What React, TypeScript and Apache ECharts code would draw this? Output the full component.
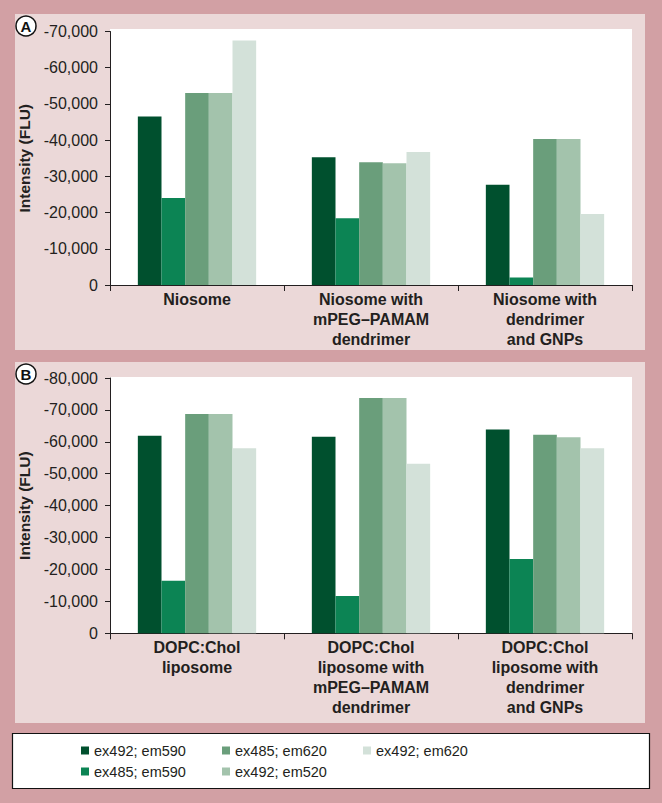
import React, { useEffect, useRef } from "react";
import * as echarts from "echarts";

const seriesNames = ["ex492; em590", "ex485; em590", "ex485; em620", "ex492; em520", "ex492; em620"];
const seriesColors = ["#00502E", "#0C8454", "#6A9E7B", "#A3C3AC", "#D3E1D9"];

const categoriesA = [
  "Niosome",
  "Niosome with\nmPEG\u2013PAMAM\ndendrimer",
  "Niosome with\ndendrimer\nand GNPs",
];
const categoriesB = [
  "DOPC:Chol\nliposome",
  "DOPC:Chol\nliposome with\nmPEG\u2013PAMAM\ndendrimer",
  "DOPC:Chol\nliposome with\ndendrimer\nand GNPs",
];

// Panel A values (per series, per category)
const a_ex492_em590 = [-46500, -35300, -27700];
const a_ex485_em590 = [-24000, -18400, -2100];
const a_ex485_em620 = [-53000, -33900, -40300];
const a_ex492_em520 = [-53000, -33600, -40300];
const a_ex492_em620 = [-67500, -36700, -19600];

// Panel B values
const b_ex492_em590 = [-61900, -61600, -63900];
const b_ex485_em590 = [-16500, -11700, -23300];
const b_ex485_em620 = [-68700, -73700, -62200];
const b_ex492_em520 = [-68700, -73700, -61400];
const b_ex492_em620 = [-58000, -53100, -58000];

const yMinA = -70000;
const yMinB = -80000;
const yInterval = 10000;
const yTitle = "Intensity (FLU)";

const FONT = "'Liberation Sans', Arial, Helvetica, sans-serif";
const INK = "#231F20";

export default function App() {
  const ref = useRef<HTMLDivElement>(null);

  useEffect(() => {
    if (!ref.current) return;
    const chart = echarts.init(ref.current, null, { renderer: "svg" });

    const dataA = [a_ex492_em590, a_ex485_em590, a_ex485_em620, a_ex492_em520, a_ex492_em620];
    const dataB = [b_ex492_em590, b_ex485_em590, b_ex485_em620, b_ex492_em520, b_ex492_em620];

    const xAxisBase = (cats: string[], gridIndex: number) => ({
      type: "category",
      gridIndex,
      data: cats,
      axisLine: { show: true, lineStyle: { color: INK, width: 1 } },
      axisTick: { show: true, length: 6, lineStyle: { color: INK } },
      axisLabel: {
        interval: 0,
        margin: 4,
        fontFamily: FONT,
        fontSize: 16,
        fontWeight: "bold",
        color: INK,
        lineHeight: 20,
        align: "center",
      },
      splitLine: { show: false },
    });

    const yAxisBase = (min: number, gridIndex: number) => ({
      type: "value",
      gridIndex,
      inverse: true,
      min,
      max: 0,
      interval: yInterval,
      name: yTitle,
      nameLocation: "middle",
      nameRotate: 90,
      nameGap: 70,
      nameTextStyle: { fontFamily: FONT, fontSize: 15.5, fontWeight: "bold", color: INK },
      axisLine: { show: true, lineStyle: { color: INK, width: 1 } },
      axisTick: { show: true, length: 5, lineStyle: { color: INK } },
      axisLabel: {
        margin: 12,
        fontFamily: FONT,
        fontSize: 16,
        color: INK,
        formatter: (v: number) => (v === 0 ? "0" : echarts.format.addCommas(v)),
      },
      splitLine: { show: false },
    });

    const series: any[] = [];
    [dataA, dataB].forEach((d, gi) => {
      d.forEach((vals, si) => {
        series.push({
          type: "bar",
          name: seriesNames[si],
          xAxisIndex: gi,
          yAxisIndex: gi,
          data: vals,
          barGap: "0%",
          barCategoryGap: "32%",
          itemStyle: { color: seriesColors[si] },
          emphasis: { disabled: true },
        });
      });
    });

    const legendCommon = {
      orient: "vertical",
      itemWidth: 8,
      itemHeight: 8,
      itemGap: 4,
      icon: "rect",
      selectedMode: false,
      textStyle: { fontFamily: FONT, fontSize: 14.5, color: INK, lineHeight: 17 },
    };

    const option: any = {
      animation: false,
      backgroundColor: "#D2A0A4",
      graphic: [
        { type: "rect", z: -10, shape: { x: 15, y: 14, width: 630, height: 336 }, style: { fill: "#EBD8D8" } },
        { type: "rect", z: -10, shape: { x: 15, y: 362, width: 630, height: 361 }, style: { fill: "#EBD8D8" } },
        { type: "rect", z: -9, shape: { x: 110, y: 29, width: 522, height: 256 }, style: { fill: "#FFFFFF" } },
        { type: "rect", z: -9, shape: { x: 110, y: 377, width: 522, height: 256 }, style: { fill: "#FFFFFF" } },
        {
          type: "rect",
          z: -10,
          shape: { x: 12.5, y: 733.5, width: 637, height: 55 },
          style: { fill: "#FFFFFF", stroke: "#111111", lineWidth: 1.2 },
        },
        { type: "circle", z: 100, shape: { cx: 26, cy: 26, r: 10 }, style: { fill: "#FFFFFF", stroke: "#111111", lineWidth: 1.5 } },
        {
          type: "text",
          z: 101,
          x: 26,
          y: 26.5,
          style: { text: "A", fontFamily: FONT, fontSize: 15, fontWeight: "bold", fill: "#111111", align: "center", verticalAlign: "middle" },
        },
        { type: "circle", z: 100, shape: { cx: 26, cy: 374, r: 10 }, style: { fill: "#FFFFFF", stroke: "#111111", lineWidth: 1.5 } },
        {
          type: "text",
          z: 101,
          x: 26,
          y: 374.5,
          style: { text: "B", fontFamily: FONT, fontSize: 15, fontWeight: "bold", fill: "#111111", align: "center", verticalAlign: "middle" },
        },
      ],
      legend: [
        { ...legendCommon, left: 76, top: 737, data: [seriesNames[0], seriesNames[1]] },
        { ...legendCommon, left: 217, top: 737, data: [seriesNames[2], seriesNames[3]] },
        { ...legendCommon, left: 358, top: 737, data: [seriesNames[4]] },
      ],
      grid: [
        { left: 110, top: 31.5, width: 522, height: 253.5, containLabel: false },
        { left: 110, top: 378, width: 522, height: 255.3, containLabel: false },
      ],
      xAxis: [xAxisBase(categoriesA, 0), xAxisBase(categoriesB, 1)],
      yAxis: [yAxisBase(yMinA, 0), yAxisBase(yMinB, 1)],
      series,
    };

    chart.setOption(option);
    return () => chart.dispose();
  }, []);

  return (
    <div
      ref={ref}
      style={{ position: "fixed", left: 0, top: 0, width: 662, height: 803 }}
    />
  );
}
